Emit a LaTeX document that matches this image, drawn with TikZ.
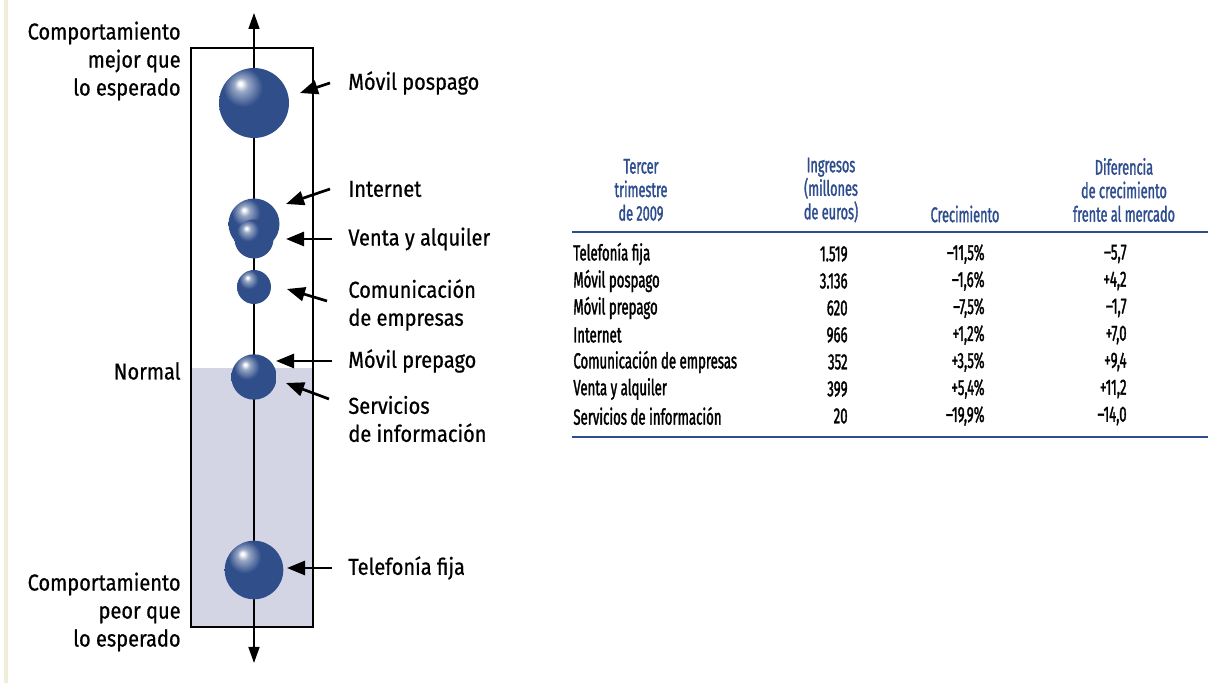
\documentclass[tikz,border=0pt]{standalone}
\usepackage{fontspec}
\setmainfont{Fira Sans}[FakeStretch=0.87,FakeBold=0.7]
\newfontfamily\tabfont{Fira Sans}[FakeStretch=0.6,FakeBold=1.4]
\usetikzlibrary{arrows.meta,calc}
\definecolor{bubblue}{RGB}{48,78,138}
\definecolor{tabblue}{RGB}{46,77,142}
\definecolor{lowfill}{RGB}{211,213,229}
\definecolor{edgebeige}{RGB}{240,238,214}
\pgfdeclareradialshading{bubble}{\pgfpoint{-10bp}{14bp}}{color(0bp)=(white);color(1bp)=(white);color(5bp)=(bubblue!50!white);color(14bp)=(bubblue);color(70bp)=(bubblue)}

\begin{document}
\begin{tikzpicture}[x=0.5pt,y=-0.5pt,
  lbl/.style={inner sep=0pt,font=\fontsize{11.5}{14}\selectfont},
  ball/.style={circle,inner sep=0pt,shade,shading=bubble,minimum size=#1},
  pointer/.style={-{Triangle[length=9pt,width=7pt]},line width=1.35pt},
  head/.style={inner sep=0pt,text=tabblue,align=center,font=\tabfont\fontsize{10.6}{11.75}\selectfont},
  cell/.style={inner sep=0pt,font=\tabfont\fontsize{11}{12}\selectfont}]
\useasboundingbox (0,0) rectangle (1223,683);
\fill[edgebeige] (4,0) rectangle (8,683);

% scale with the lower band
\fill[lowfill] (191,368) rectangle (313,627);
\draw[line width=0.8pt] (191,48) rectangle (313,627);
\coordinate (top) at (254,13);
\coordinate (bot) at (254,663);
\draw[{Triangle[length=8pt,width=5.5pt]}-{Triangle[length=8pt,width=5.5pt]},line width=0.75pt] (bot) -- (top);

% bubbles
\node[ball=35pt] (pos) at (254,103) {};
\node[ball=25.5pt] (int) at (254,224) {};
\node[ball=19.5pt] (ven) at (254,239) {};
\node[ball=17pt] (com) at (254,287) {};
\node[ball=22.7pt] (pre) at (254,377) {};
\node[ball=29.3pt] (tel) at (254,570) {};

% labels on the left
\node[lbl,anchor=east,align=right] (best) at (181,61) {Comportamiento\\mejor que\\lo esperado};
\node[lbl,anchor=east] (norm) at (181,371) {Normal};
\node[lbl,anchor=east,align=right] (worst) at (181,612) {Comportamiento\\peor que\\lo esperado};

% labels on the right
\node[lbl,anchor=west] (pos-l) at (348,83) {Móvil pospago};
\node[lbl,anchor=west] (int-l) at (348,189) {Internet};
\node[lbl,anchor=west] (ven-l) at (348,239) {Venta y alquiler};
\node[lbl,anchor=west,align=left] (com-l) at (348,305) {Comunicación\\de empresas};
\node[lbl,anchor=west] (pre-l) at (348,361) {Móvil prepago};
\node[lbl,anchor=west,align=left] (srv-l) at (348,419) {Servicios\\de información};
\node[lbl,anchor=west] (tel-l) at (348,568) {Telefonía fija};

\coordinate (pos-t) at (300,93);
\coordinate (int-t) at (286,204);
\coordinate (ven-t) at (286,239);
\coordinate (com-t) at (287,289);
\coordinate (pre-t) at (276,361);
\coordinate (srv-t) at (286,383);
\coordinate (tel-t) at (287,568);

\draw[pointer] ([shift={(-18,0)}]pos-l.west) -- (pos-t);
\draw[pointer] ([shift={(-18,0)}]int-l.west) -- (int-t);
\draw[pointer] ([shift={(-16,0)}]ven-l.west) -- (ven-t);
\draw[pointer] ([shift={(-21,-4)}]com-l.west) -- (com-t);
\draw[pointer] ([shift={(-16,0)}]pre-l.west) -- (pre-t);
\draw[pointer] ([shift={(-19,-20)}]srv-l.west) -- (srv-t);
\draw[pointer] ([shift={(-16,0)}]tel-l.west) -- (tel-t);

% table
\node[head] (h-per) at (641,190) {Tercer\\trimestre\\de 2009};
\node[head] (h-ing) at (831,190) {Ingresos\\(millones\\de euros)};
\node[head] (h-cre) at (965,214) {Crecimiento};
\node[head] (h-dif) at (1124,190) {Diferencia\\de crecimiento\\frente al mercado};
\draw[tabblue,line width=1pt] (572,232) -- (1208,232);
\foreach \nm/\ing/\cre/\dif [count=\i] in {
  Telefonía fija/1.519/{–11,5\%}/{–5,7},
  Móvil pospago/3.136/{–1,6\%}/{+4,2},
  Móvil prepago/620/{–7,5\%}/{–1,7},
  Internet/966/{+1,2\%}/{+7,0},
  Comunicación de empresas/352/{+3,5\%}/{+9,4},
  Venta y alquiler/399/{+5,4\%}/{+11,2},
  Servicios de información/20/{–19,9\%}/{–14,0}}{
  \node[cell,anchor=west] (r\i-n) at (573,227+27*\i) {\nm};
  \node[cell,anchor=east] (r\i-a) at (848,227+27*\i) {\ing};
  \node[cell,anchor=east] (r\i-b) at (985,227+27*\i) {\cre};
  \node[cell,anchor=east] (r\i-c) at (1127,227+27*\i) {\dif};
}
\draw[tabblue,line width=1pt] (572,437) -- (1208,437);
\end{tikzpicture}
\end{document}
